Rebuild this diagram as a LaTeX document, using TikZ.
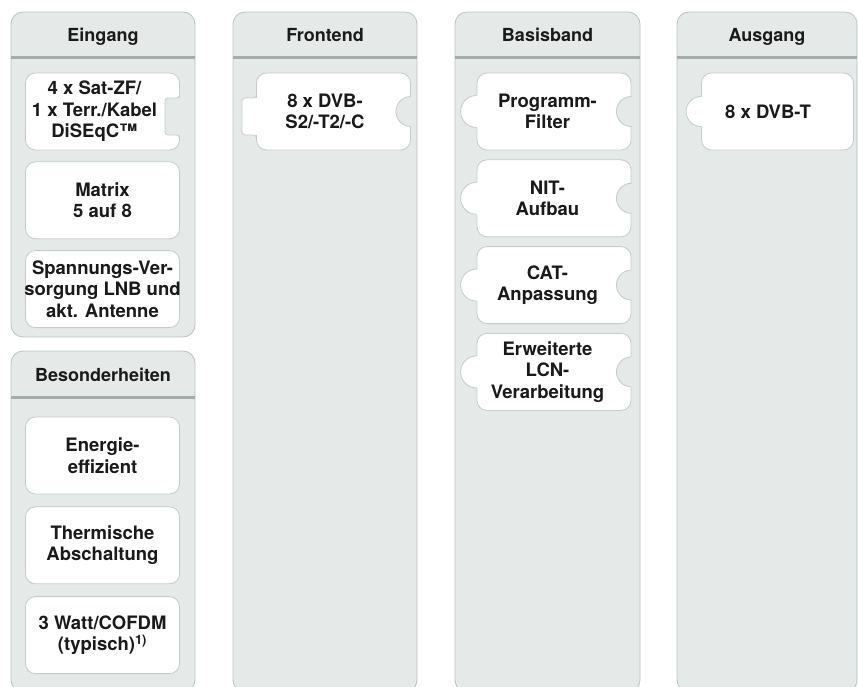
\documentclass[tikz,border=0pt]{standalone}
\usepackage{fontspec}
\setmainfont{TeX Gyre Heros}
\usepackage{tikz}
\usetikzlibrary{positioning}

\definecolor{colfill}{HTML}{E5E9E8}
\definecolor{colline}{HTML}{B9C3C3}
\definecolor{sepline}{HTML}{A3ADAD}
\definecolor{cardline}{HTML}{C3CCCC}
\definecolor{ink}{HTML}{1A1A1A}

\begin{document}
\begin{tikzpicture}[x=1pt, y=-1pt, node distance=9pt]
	\tikzstyle{column} = [fill=colfill, draw=colline, line width=0.8pt, rounded corners=12pt]
	\tikzstyle{sep} = [draw=sepline, line width=3pt]
	\tikzstyle{head} = [font=\bfseries\fontsize{18}{21}\selectfont, text=ink, inner sep=0pt, anchor=base]
	\tikzstyle{card} = [draw=cardline, fill=white, line width=0.8pt, rounded corners=10pt, minimum width=154pt, minimum height=77pt, inner sep=0pt]
	\tikzstyle{txt} = [align=center, font=\bfseries\fontsize{18.5}{21.5}\selectfont, text=ink, inner sep=0pt]
	\tikzstyle{bump} = [draw=cardline, line width=0.8pt]

	\path[use as bounding box] (0,0) rectangle (858,686);
	\clip (0,0) rectangle (858,686);

	% columns
	\draw[column] (11,12) rectangle (195,337);
	\draw[column] (11,351) rectangle (195,692);
	\draw[column] (233,12) rectangle (417,692);
	\draw[column] (455,12) rectangle (640,692);
	\draw[column] (677,12) rectangle (857,692);
	\draw[sep] (11,57.5) -- (195,57.5);
	\draw[sep] (11,397) -- (195,397);
	\draw[sep] (233,57.5) -- (417,57.5);
	\draw[sep] (455,57.5) -- (640,57.5);
	\draw[sep] (677,57.5) -- (857,57.5);

	\node[head] (eingang) at (103,41.5) {Eingang};
	\node[head] (besonder) at (103,381) {Besonderheiten};
	\node[head] (frontend) at (325,41.5) {Frontend};
	\node[head] (basis) at (547.5,41.5) {Basisband};
	\node[head] (ausgang) at (767,41.5) {Ausgang};

	% Eingang
	\node[card] (e1) at (102.5,111.5) {};
	\node[card, below=11pt of e1] (e2) {};
	\node[card, below=11pt of e2] (e3) {};
	\fill[colfill, rounded corners=3pt] (165,98) rectangle (184,135);
	\draw[bump, rounded corners=3pt] (179.5,93) -- (179.5,98) -- (165,98) -- (165,135) -- (179.5,135) -- (179.5,140);
	\node[txt] (e1t) at ([xshift=-8pt]e1.center) {4 x Sat-ZF/\\1 x Terr./Kabel\\DiSEqC™};
	\node[txt] (e2t) at (e2) {Matrix\\5 auf 8};
	\node[txt] (e3t) at (e3) {Spannungs-Ver-\\sorgung LNB und\\akt. Antenne};

	% Besonderheiten
	\node[card] (b1) at (102.5,455.5) {};
	\node[card, below=12pt of b1] (b2) {};
	\node[card, below=12pt of b2] (b3) {};
	\node[txt] (b1t) at (b1) {Energie-\\effizient};
	\node[txt] (b2t) at (b2) {Thermische\\Abschaltung};
	\node[txt] (b3t) at (b3) {3 Watt/COFDM\\(typisch)\textsuperscript{1)}};

	% Frontend
	\node[card] (f1) at (333.5,111.5) {};
	\fill[white, rounded corners=3pt] (242,98) rectangle (262,135);
	\draw[bump, rounded corners=3pt] (256.5,93) -- (256.5,98) -- (242,98) -- (242,135) -- (256.5,135) -- (256.5,140);
	\fill[colfill] ([yshift=15pt]f1.east) arc[start angle=90, end angle=270, radius=15pt] -- ++(1pt,0pt) -- ++(0pt,30pt) -- cycle;
	\draw[bump] ([yshift=15pt]f1.east) arc[start angle=90, end angle=270, radius=15pt];
	\node[txt] (f1t) at ([xshift=-8.5pt]f1.center) {8 x DVB-\\S2/-T2/-C};

	% Basisband
	\node[card] (p1) at (554,111.5) {};
	\node[card, below=of p1] (p2) {};
	\node[card, below=of p2] (p3) {};
	\node[card, below=of p3] (p4) {};
	\foreach \c in {p1,p2,p3,p4} {
		\fill[white] (\c.west) circle (16pt);
		\draw[bump] ([yshift=16pt]\c.west) arc[start angle=90, end angle=270, radius=16pt];
		\fill[colfill] ([yshift=15pt]\c.east) arc[start angle=90, end angle=270, radius=15pt] -- ++(1pt,0pt) -- ++(0pt,30pt) -- cycle;
		\draw[bump] ([yshift=15pt]\c.east) arc[start angle=90, end angle=270, radius=15pt];
	}
	\node[txt] (p1t) at ([xshift=-6.5pt]p1.center) {Programm-\\Filter};
	\node[txt] (p2t) at ([xshift=-6.5pt]p2.center) {NIT-\\Aufbau};
	\node[txt] (p3t) at ([xshift=-6.5pt]p3.center) {CAT-\\Anpassung};
	\node[txt] (p4t) at ([xshift=-6.5pt]p4.center) {Erweiterte\\LCN-\\Verarbeitung};

	% Ausgang
	\node[card, minimum width=152pt] (a1) at (777.5,111.5) {};
	\fill[white] (a1.west) circle (15pt);
	\draw[bump] ([yshift=15pt]a1.west) arc[start angle=90, end angle=270, radius=15pt];
	\node[txt] (a1t) at ([xshift=-9.5pt]a1.center) {8 x DVB-T};
\end{tikzpicture}
\end{document}
